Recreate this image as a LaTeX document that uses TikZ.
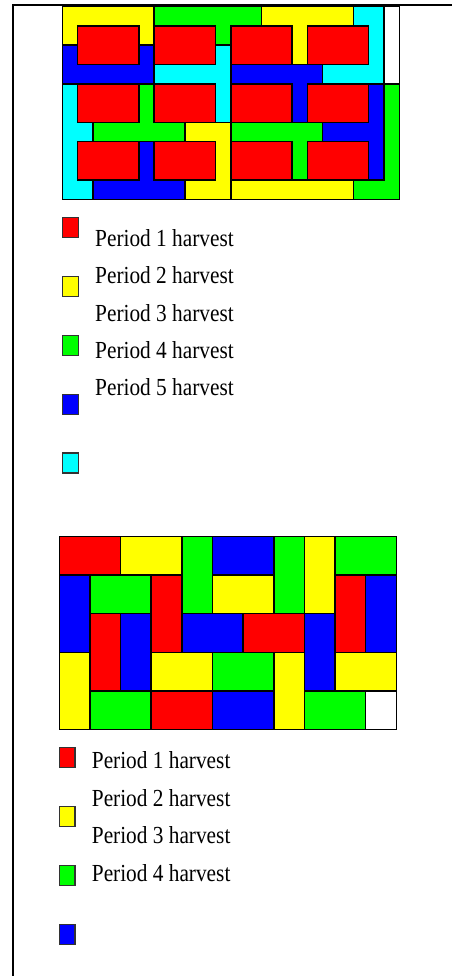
\documentclass[tikz,border=0pt]{standalone}
\usepackage{fontspec}
\newfontfamily\harvfont[FakeStretch=0.87]{Liberation Serif}
\usepackage{tikz}
\usetikzlibrary{positioning}
\definecolor{hred}{RGB}{255,0,0}
\definecolor{hyellow}{RGB}{255,255,0}
\definecolor{hgreen}{RGB}{0,255,0}
\definecolor{hblue}{RGB}{0,0,255}
\definecolor{hcyan}{RGB}{0,255,255}

\begin{document}
\begin{tikzpicture}[
    x=1pt, y=-1pt,
    cell/.style={draw=black, line width=1.5pt, line join=miter},
    keybox/.style={draw=black!80, line width=1.2pt, minimum width=15.6pt,
                   minimum height=20pt, inner sep=0pt},
    lbl/.style={anchor=base west, inner sep=0pt,
                font=\harvfont\fontsize{24.5}{24.5}\selectfont}
]
\useasboundingbox (0,0) rectangle (452,976);

% frame
\draw[line width=2pt] (13,976) |- (452,5);

% top plan: cut blocks and leave strips
\begin{scope}[shift={(62.3,6.7)}, x=15.32pt, y=-19.27pt]
\draw[cell, fill=hyellow] (0,0) -- (6,0) -- (6,2) -- (5,2) -- (5,1) -- (1,1) -- (1,2) -- (0,2) -- cycle;
\draw[cell, fill=hgreen] (6,0) -- (13,0) -- (13,1) -- (11,1) -- (11,2) -- (10,2) -- (10,1) -- (6,1) -- cycle;
\draw[cell, fill=hyellow] (13,0) -- (19,0) -- (19,1) -- (16,1) -- (16,3) -- (15,3) -- (15,1) -- (13,1) -- cycle;
\draw[cell, fill=hcyan] (19,0) -- (21,0) -- (21,4) -- (17,4) -- (17,3) -- (20,3) -- (20,1) -- (19,1) -- cycle;
\draw[cell, fill=white] (21,0) rectangle (22,4);
\draw[cell, fill=hblue] (0,2) -- (1,2) -- (1,3) -- (5,3) -- (5,2) -- (6,2) -- (6,4) -- (0,4) -- cycle;
\draw[cell, fill=hcyan] (10,2) -- (11,2) -- (11,6) -- (10,6) -- (10,4) -- (6,4) -- (6,3) -- (10,3) -- cycle;
\draw[cell, fill=hblue] (11,3) -- (17,3) -- (17,4) -- (16,4) -- (16,6) -- (15,6) -- (15,4) -- (11,4) -- cycle;
\draw[cell, fill=hcyan] (0,4) -- (1,4) -- (1,6) -- (2,6) -- (2,7) -- (1,7) -- (1,9) -- (2,9) -- (2,10) -- (0,10) -- cycle;
\draw[cell, fill=hgreen] (5,4) -- (6,4) -- (6,6) -- (8,6) -- (8,7) -- (2,7) -- (2,6) -- (5,6) -- cycle;
\draw[cell, fill=hblue] (5,7) -- (6,7) -- (6,9) -- (8,9) -- (8,10) -- (2,10) -- (2,9) -- (5,9) -- cycle;
\draw[cell, fill=hyellow] (8,6) -- (11,6) -- (11,10) -- (8,10) -- (8,9) -- (10,9) -- (10,7) -- (8,7) -- cycle;
\draw[cell, fill=hgreen] (11,6) -- (17,6) -- (17,7) -- (16,7) -- (16,9) -- (15,9) -- (15,7) -- (11,7) -- cycle;
\draw[cell, fill=hyellow] (11,9) rectangle (19,10);
\draw[cell, fill=hblue] (20,4) -- (21,4) -- (21,9) -- (20,9) -- (20,7) -- (17,7) -- (17,6) -- (20,6) -- cycle;
\draw[cell, fill=hgreen] (21,4) -- (22,4) -- (22,10) -- (19,10) -- (19,9) -- (21,9) -- cycle;
\foreach \bx in {1,6,11,16}
  \foreach \by in {1,4,7}
    \draw[cell, fill=hred] (\bx,\by) rectangle ++(4,2);
\end{scope}

% top legend
\node[keybox, fill=hred] (keyred) at (70.5,227.7) {};
\node[keybox, fill=hyellow, below=37.6pt of keyred] (keyyellow) {};
\node[keybox, fill=hgreen, below=37.6pt of keyyellow] (keygreen) {};
\node[keybox, fill=hblue, below=37.6pt of keygreen] (keyblue) {};
\node[keybox, fill=hcyan, below=37.6pt of keyblue] (keycyan) {};
\node[lbl] (txtone) at (95,246.5) {Period 1 harvest};
\node[lbl] (txttwo) at (95,283.8) {Period 2 harvest};
\node[lbl] (txtthree) at (95,321.1) {Period 3 harvest};
\node[lbl] (txtfour) at (95,358.4) {Period 4 harvest};
\node[lbl] (txtfive) at (95,395.7) {Period 5 harvest};

% bottom plan: two-cell blocks
\begin{scope}[shift={(59.3,536.7)}, x=30.64pt, y=-38.52pt]
\foreach \bx/\by/\bw/\bh/\bc in {
    0/0/2/1/hred, 2/0/2/1/hyellow, 4/0/1/2/hgreen, 5/0/2/1/hblue,
    7/0/1/2/hgreen, 8/0/1/2/hyellow, 9/0/2/1/hgreen,
    0/1/1/2/hblue, 1/1/2/1/hgreen, 3/1/1/2/hred, 5/1/2/1/hyellow,
    9/1/1/2/hred, 10/1/1/2/hblue,
    1/2/1/2/hred, 2/2/1/2/hblue, 4/2/2/1/hblue, 6/2/2/1/hred, 8/2/1/2/hblue,
    0/3/1/2/hyellow, 3/3/2/1/hyellow, 5/3/2/1/hgreen, 7/3/1/2/hyellow,
    9/3/2/1/hyellow,
    1/4/2/1/hgreen, 3/4/2/1/hred, 5/4/2/1/hblue, 8/4/2/1/hgreen,
    10/4/1/1/white}
  \draw[cell, fill=\bc] (\bx,\by) rectangle ++(\bw,\bh);
\end{scope}

% bottom legend
\node[keybox, fill=hred] (keyredb) at (67.2,757.7) {};
\node[keybox, fill=hyellow, below=37.7pt of keyredb] (keyyellowb) {};
\node[keybox, fill=hgreen, below=37.7pt of keyyellowb] (keygreenb) {};
\node[keybox, fill=hblue, below=37.7pt of keygreenb] (keyblueb) {};
\node[lbl] (txtoneb) at (91.7,768.5) {Period 1 harvest};
\node[lbl] (txttwob) at (91.7,806) {Period 2 harvest};
\node[lbl] (txtthreeb) at (91.7,843.5) {Period 3 harvest};
\node[lbl] (txtfourb) at (91.7,881) {Period 4 harvest};

\end{tikzpicture}
\end{document}
